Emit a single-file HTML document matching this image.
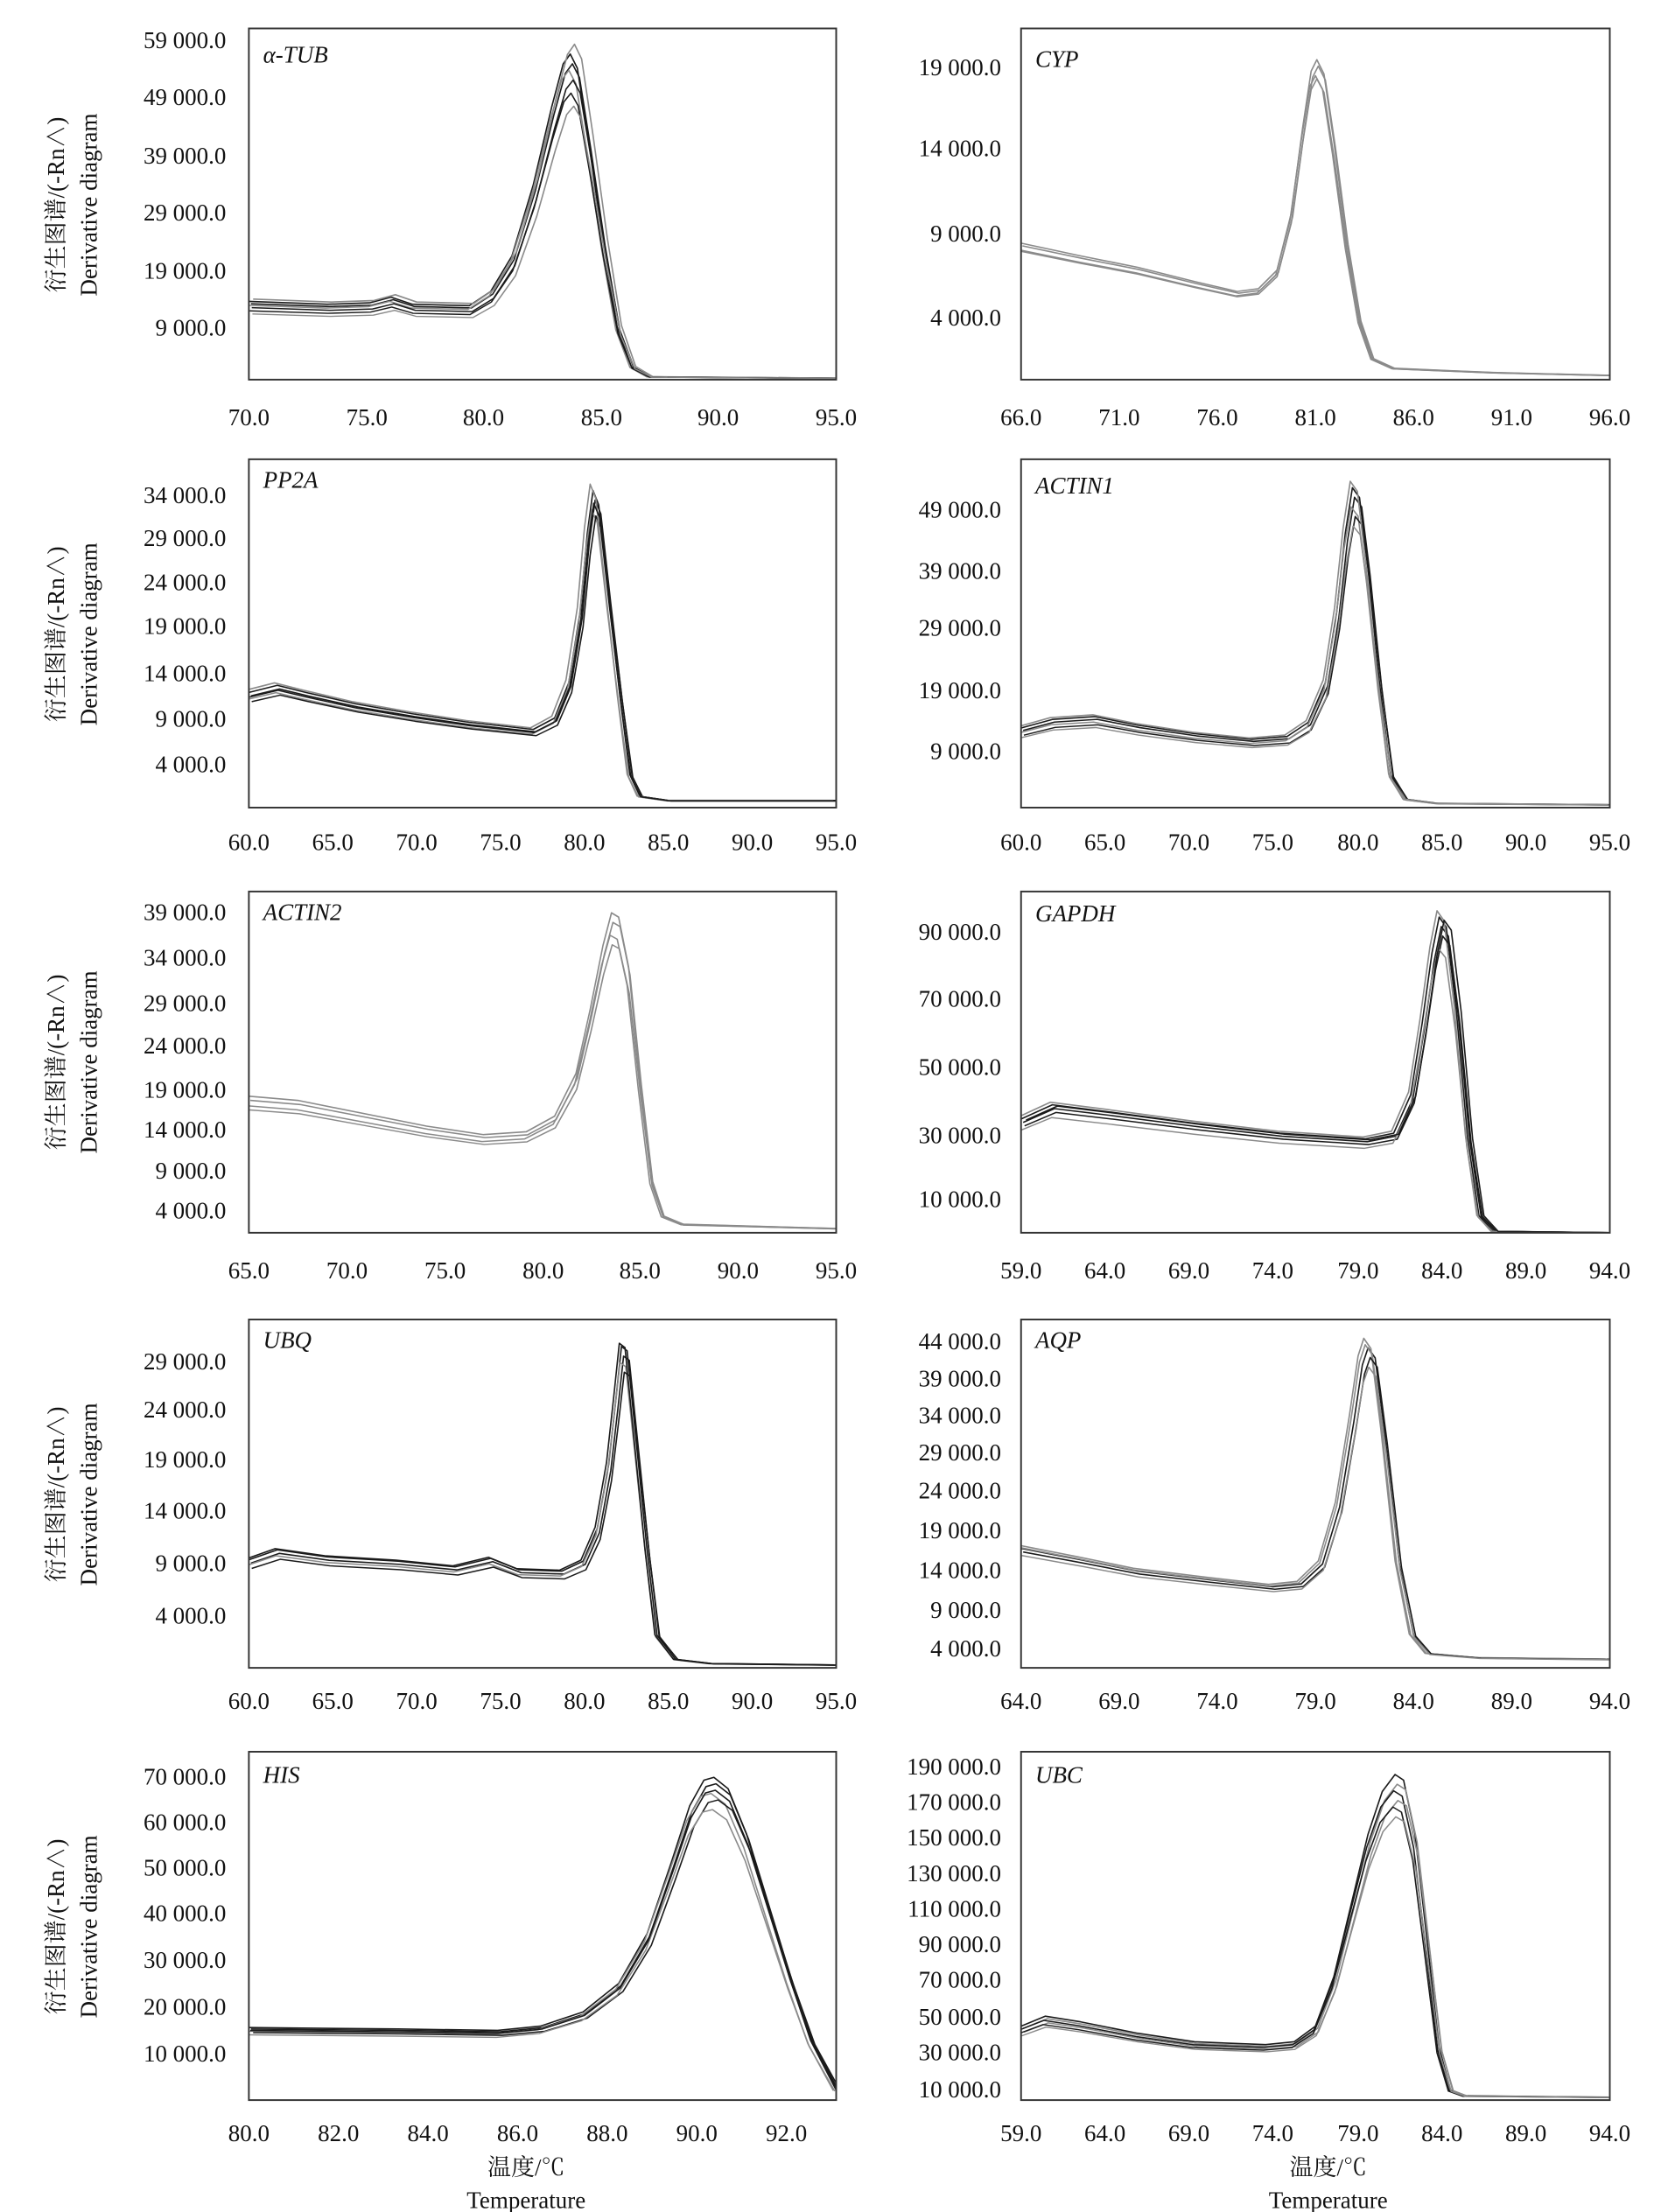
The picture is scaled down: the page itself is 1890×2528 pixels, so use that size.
<!DOCTYPE html>
<html><head><meta charset="utf-8"><style>
html,body{margin:0;padding:0;background:#fff;}
svg{display:block;}
text{font-family:"Liberation Serif","Noto Serif CJK SC","Noto Sans CJK SC",serif;fill:#111;font-size:16.6px;}
.yl text{text-anchor:end;}
.xl text{text-anchor:middle;}
.c{fill:none;stroke-width:1;stroke-linejoin:round;}
.k{stroke:#1a1a1a}.g{stroke:#8a8a8a}
.box{fill:none;stroke:#333;stroke-width:1.2}
.nm{font-style:italic;}
</style></head><body>
<svg width="1890" height="2528" viewBox="0 0 1163.08 1555.7" xmlns="http://www.w3.org/2000/svg" xmlns:xlink="http://www.w3.org/1999/xlink">
<rect width="1163.08" height="1555.7" fill="#fff"/>
<defs>
<path id="p1" d="M175,212 L230,214 L260,213 L275,209 L290,214 L330,215 L345,205 L360,180 L375,130 L388,75 L396,45 L401,38 L406,48 L414,100 L424,170 L434,230 L444,258 L456,265 L588,266"/>
<path id="p2" d="M718,171 L760,180 L800,188 L840,198 L870,205 L885,203 L898,190 L908,150 L916,90 L922,50 L926,42 L931,52 L938,100 L947,170 L956,225 L965,252 L980,259 L1050,262 L1132,264"/>
<path id="p3" d="M175,487 L195,482 L215,487 L250,495 L290,502 L330,508 L375,513 L390,505 L400,480 L408,430 L413,375 L417,345 L421,355 L428,420 L436,490 L443,545 L450,560 L470,563 L588,563"/>
<path id="p4" d="M718,512 L740,506 L770,504 L800,510 L840,516 L880,520 L905,518 L920,508 L932,480 L940,430 L946,375 L951,343 L956,350 L962,400 L970,480 L978,545 L988,562 L1010,565 L1132,566"/>
<path id="p5" d="M175,771 L210,774 L250,782 L300,792 L340,798 L370,796 L390,785 L405,755 L415,710 L424,665 L430,642 L435,645 L442,680 L450,760 L458,830 L466,855 L480,861 L588,864"/>
<path id="p6" d="M718,787 L740,777 L780,782 L840,790 L900,797 L960,801 L980,797 L992,770 L1000,720 L1007,670 L1012,645 L1017,652 L1024,710 L1032,800 L1040,855 L1050,866 L1132,867"/>
<path id="p7" d="M175,1097 L195,1090 L230,1095 L280,1098 L320,1102 L345,1096 L365,1104 L395,1105 L410,1098 L420,1075 L428,1030 L433,985 L437,947 L441,950 L447,1010 L455,1090 L462,1150 L475,1167 L500,1170 L588,1171"/>
<path id="p8" d="M718,1089 L760,1097 L800,1105 L850,1111 L895,1116 L915,1114 L930,1100 L942,1060 L952,1000 L958,960 L962,948 L967,955 L974,1010 L984,1100 L994,1150 L1005,1163 L1040,1166 L1132,1167"/>
<path id="p9" d="M175,1426 L280,1427 L350,1428 L380,1425 L410,1415 L435,1395 L455,1360 L472,1310 L485,1270 L495,1252 L502,1250 L512,1258 L525,1290 L540,1340 L555,1390 L570,1435 L588,1470"/>
<path id="p10" d="M718,1425 L735,1418 L760,1422 L800,1430 L840,1436 L890,1438 L910,1436 L925,1425 L938,1390 L950,1340 L962,1290 L972,1260 L981,1248 L987,1252 L995,1290 L1003,1360 L1012,1440 L1020,1470 L1030,1474 L1132,1475"/>
<clipPath id="cl"><rect x="175" y="20" width="413" height="247"/><rect x="718" y="20" width="414" height="247"/>
<rect x="175" y="323" width="413" height="245"/><rect x="718" y="323" width="414" height="245"/>
<rect x="175" y="627" width="413" height="240"/><rect x="718" y="627" width="414" height="240"/>
<rect x="175" y="928" width="413" height="245"/><rect x="718" y="928" width="414" height="245"/>
<rect x="175" y="1232" width="413" height="245"/><rect x="718" y="1232" width="414" height="245"/></clipPath>
</defs>

<g clip-path="url(#cl)">
<use href="#p1" xlink:href="#p1" class="c k"/>
<g transform="translate(1.5,267) scale(1,0.97) translate(0,-267)"><use href="#p1" xlink:href="#p1" class="c k"/></g>
<g transform="translate(-1,267) scale(1,0.95) translate(0,-267)"><use href="#p1" xlink:href="#p1" class="c g"/></g>
<g transform="translate(2,267) scale(1,0.92) translate(0,-267)"><use href="#p1" xlink:href="#p1" class="c k"/></g>
<g transform="translate(3,267) scale(1,1.03) translate(0,-267)"><use href="#p1" xlink:href="#p1" class="c g"/></g>
<g transform="translate(0.5,267) scale(1,0.88) translate(0,-267)"><use href="#p1" xlink:href="#p1" class="c k"/></g>
<g transform="translate(2.5,267) scale(1,0.84) translate(0,-267)"><use href="#p1" xlink:href="#p1" class="c g"/></g>
<use href="#p2" xlink:href="#p2" class="c g"/>
<g transform="translate(1,267) scale(1,0.98) translate(0,-267)"><use href="#p2" xlink:href="#p2" class="c g"/></g>
<g transform="translate(-1,267) scale(1,0.95) translate(0,-267)"><use href="#p2" xlink:href="#p2" class="c g"/></g>
<g transform="translate(0,267) scale(1,0.94) translate(0,-267)"><use href="#p2" xlink:href="#p2" class="c g"/></g>
<use href="#p3" xlink:href="#p3" class="c k"/>
<g transform="translate(1.5,568) scale(1,0.97) translate(0,-568)"><use href="#p3" xlink:href="#p3" class="c k"/></g>
<g transform="translate(-1,568) scale(1,0.94) translate(0,-568)"><use href="#p3" xlink:href="#p3" class="c g"/></g>
<g transform="translate(2,568) scale(1,0.92) translate(0,-568)"><use href="#p3" xlink:href="#p3" class="c k"/></g>
<g transform="translate(-2,568) scale(1,1.02) translate(0,-568)"><use href="#p3" xlink:href="#p3" class="c g"/></g>
<g transform="translate(0.5,568) scale(1,0.96) translate(0,-568)"><use href="#p3" xlink:href="#p3" class="c k"/></g>
<use href="#p4" xlink:href="#p4" class="c k"/>
<g transform="translate(1.5,568) scale(1,0.97) translate(0,-568)"><use href="#p4" xlink:href="#p4" class="c k"/></g>
<g transform="translate(-1,568) scale(1,0.94) translate(0,-568)"><use href="#p4" xlink:href="#p4" class="c g"/></g>
<g transform="translate(2,568) scale(1,0.91) translate(0,-568)"><use href="#p4" xlink:href="#p4" class="c k"/></g>
<g transform="translate(-1.5,568) scale(1,1.02) translate(0,-568)"><use href="#p4" xlink:href="#p4" class="c g"/></g>
<g transform="translate(0.5,568) scale(1,0.88) translate(0,-568)"><use href="#p4" xlink:href="#p4" class="c g"/></g>
<use href="#p5" xlink:href="#p5" class="c g"/>
<g transform="translate(1,867) scale(1,0.97) translate(0,-867)"><use href="#p5" xlink:href="#p5" class="c g"/></g>
<g transform="translate(-1,867) scale(1,0.93) translate(0,-867)"><use href="#p5" xlink:href="#p5" class="c g"/></g>
<g transform="translate(0.5,867) scale(1,0.9) translate(0,-867)"><use href="#p5" xlink:href="#p5" class="c g"/></g>
<use href="#p6" xlink:href="#p6" class="c k"/>
<g transform="translate(1.5,867) scale(1,0.97) translate(0,-867)"><use href="#p6" xlink:href="#p6" class="c k"/></g>
<g transform="translate(-1.5,867) scale(1,1.02) translate(0,-867)"><use href="#p6" xlink:href="#p6" class="c g"/></g>
<g transform="translate(2.5,867) scale(1,0.94) translate(0,-867)"><use href="#p6" xlink:href="#p6" class="c k"/></g>
<g transform="translate(-0.5,867) scale(1,0.9) translate(0,-867)"><use href="#p6" xlink:href="#p6" class="c g"/></g>
<g transform="translate(3.5,867) scale(1,0.99) translate(0,-867)"><use href="#p6" xlink:href="#p6" class="c k"/></g>
<use href="#p7" xlink:href="#p7" class="c k"/>
<g transform="translate(1.5,1173) scale(1,0.97) translate(0,-1173)"><use href="#p7" xlink:href="#p7" class="c k"/></g>
<g transform="translate(-1,1173) scale(1,0.95) translate(0,-1173)"><use href="#p7" xlink:href="#p7" class="c g"/></g>
<g transform="translate(2,1173) scale(1,0.92) translate(0,-1173)"><use href="#p7" xlink:href="#p7" class="c k"/></g>
<g transform="translate(-1.5,1173) scale(1,1.01) translate(0,-1173)"><use href="#p7" xlink:href="#p7" class="c k"/></g>
<use href="#p8" xlink:href="#p8" class="c k"/>
<g transform="translate(-3,1173) scale(1,1.03) translate(0,-1173)"><use href="#p8" xlink:href="#p8" class="c g"/></g>
<g transform="translate(-2,1173) scale(1,1.01) translate(0,-1173)"><use href="#p8" xlink:href="#p8" class="c g"/></g>
<g transform="translate(1.5,1173) scale(1,0.97) translate(0,-1173)"><use href="#p8" xlink:href="#p8" class="c k"/></g>
<g transform="translate(0.5,1173) scale(1,0.94) translate(0,-1173)"><use href="#p8" xlink:href="#p8" class="c g"/></g>
<use href="#p9" xlink:href="#p9" class="c k"/>
<g transform="translate(1.5,1477) scale(1,0.98) translate(0,-1477)"><use href="#p9" xlink:href="#p9" class="c k"/></g>
<g transform="translate(-2,1477) scale(1,0.95) translate(0,-1477)"><use href="#p9" xlink:href="#p9" class="c g"/></g>
<g transform="translate(3,1477) scale(1,0.93) translate(0,-1477)"><use href="#p9" xlink:href="#p9" class="c k"/></g>
<g transform="translate(-1,1477) scale(1,0.9) translate(0,-1477)"><use href="#p9" xlink:href="#p9" class="c g"/></g>
<g transform="translate(1,1477) scale(1,0.96) translate(0,-1477)"><use href="#p9" xlink:href="#p9" class="c k"/></g>
<use href="#p10" xlink:href="#p10" class="c k"/>
<g transform="translate(1.5,1477) scale(1,0.97) translate(0,-1477)"><use href="#p10" xlink:href="#p10" class="c g"/></g>
<g transform="translate(-1,1477) scale(1,0.95) translate(0,-1477)"><use href="#p10" xlink:href="#p10" class="c k"/></g>
<g transform="translate(2,1477) scale(1,0.92) translate(0,-1477)"><use href="#p10" xlink:href="#p10" class="c g"/></g>
<g transform="translate(-1.5,1477) scale(1,0.9) translate(0,-1477)"><use href="#p10" xlink:href="#p10" class="c k"/></g>
<g transform="translate(0.5,1477) scale(1,0.87) translate(0,-1477)"><use href="#p10" xlink:href="#p10" class="c g"/></g>
</g>

<rect class="box" x="175" y="20" width="413" height="247"/><rect class="box" x="718" y="20" width="414" height="247"/>
<rect class="box" x="175" y="323" width="413" height="245"/><rect class="box" x="718" y="323" width="414" height="245"/>
<rect class="box" x="175" y="627" width="413" height="240"/><rect class="box" x="718" y="627" width="414" height="240"/>
<rect class="box" x="175" y="928" width="413" height="245"/><rect class="box" x="718" y="928" width="414" height="245"/>
<rect class="box" x="175" y="1232" width="413" height="245"/><rect class="box" x="718" y="1232" width="414" height="245"/>

<g class="nm">
<text x="185" y="44">α-TUB</text><text x="728" y="47">CYP</text>
<text x="185" y="343">PP2A</text><text x="728" y="347">ACTIN1</text>
<text x="185" y="647">ACTIN2</text><text x="728" y="648">GAPDH</text>
<text x="185" y="948">UBQ</text><text x="728" y="948">AQP</text>
<text x="185" y="1254">HIS</text><text x="728" y="1254">UBC</text>
</g>

<g class="yl">
<text x="159" y="34">59 000.0</text><text x="159" y="74">49 000.0</text><text x="159" y="115">39 000.0</text><text x="159" y="155">29 000.0</text><text x="159" y="196">19 000.0</text><text x="159" y="236">9 000.0</text>
<text x="704" y="53">19 000.0</text><text x="704" y="110">14 000.0</text><text x="704" y="170">9 000.0</text><text x="704" y="229">4 000.0</text>
<text x="159" y="354">34 000.0</text><text x="159" y="384">29 000.0</text><text x="159" y="415">24 000.0</text><text x="159" y="446">19 000.0</text><text x="159" y="479">14 000.0</text><text x="159" y="511">9 000.0</text><text x="159" y="543">4 000.0</text>
<text x="704" y="364">49 000.0</text><text x="704" y="407">39 000.0</text><text x="704" y="447">29 000.0</text><text x="704" y="491">19 000.0</text><text x="704" y="534">9 000.0</text>
<text x="159" y="647">39 000.0</text><text x="159" y="679">34 000.0</text><text x="159" y="711">29 000.0</text><text x="159" y="741">24 000.0</text><text x="159" y="772">19 000.0</text><text x="159" y="800">14 000.0</text><text x="159" y="829">9 000.0</text><text x="159" y="857">4 000.0</text>
<text x="704" y="661">90 000.0</text><text x="704" y="708">70 000.0</text><text x="704" y="756">50 000.0</text><text x="704" y="804">30 000.0</text><text x="704" y="849">10 000.0</text>
<text x="159" y="963">29 000.0</text><text x="159" y="997">24 000.0</text><text x="159" y="1032">19 000.0</text><text x="159" y="1068">14 000.0</text><text x="159" y="1105">9 000.0</text><text x="159" y="1142">4 000.0</text>
<text x="704" y="949">44 000.0</text><text x="704" y="975">39 000.0</text><text x="704" y="1001">34 000.0</text><text x="704" y="1027">29 000.0</text><text x="704" y="1054">24 000.0</text><text x="704" y="1082">19 000.0</text><text x="704" y="1110">14 000.0</text><text x="704" y="1138">9 000.0</text><text x="704" y="1165">4 000.0</text>
<text x="159" y="1255">70 000.0</text><text x="159" y="1287">60 000.0</text><text x="159" y="1319">50 000.0</text><text x="159" y="1351">40 000.0</text><text x="159" y="1384">30 000.0</text><text x="159" y="1417">20 000.0</text><text x="159" y="1450">10 000.0</text>
<text x="704" y="1248">190 000.0</text><text x="704" y="1273">170 000.0</text><text x="704" y="1298">150 000.0</text><text x="704" y="1323">130 000.0</text><text x="704" y="1348">110 000.0</text><text x="704" y="1373">90 000.0</text><text x="704" y="1398">70 000.0</text><text x="704" y="1424">50 000.0</text><text x="704" y="1449">30 000.0</text><text x="704" y="1475">10 000.0</text>
</g>

<g class="xl">
<text x="175" y="299">70.0</text><text x="258" y="299">75.0</text><text x="340" y="299">80.0</text><text x="423" y="299">85.0</text><text x="505" y="299">90.0</text><text x="588" y="299">95.0</text>
<text x="718" y="299">66.0</text><text x="787" y="299">71.0</text><text x="856" y="299">76.0</text><text x="925" y="299">81.0</text><text x="994" y="299">86.0</text><text x="1063" y="299">91.0</text><text x="1132" y="299">96.0</text>
<text x="175" y="598">60.0</text><text x="234" y="598">65.0</text><text x="293" y="598">70.0</text><text x="352" y="598">75.0</text><text x="411" y="598">80.0</text><text x="470" y="598">85.0</text><text x="529" y="598">90.0</text><text x="588" y="598">95.0</text>
<text x="718" y="598">60.0</text><text x="777" y="598">65.0</text><text x="836" y="598">70.0</text><text x="895" y="598">75.0</text><text x="955" y="598">80.0</text><text x="1014" y="598">85.0</text><text x="1073" y="598">90.0</text><text x="1132" y="598">95.0</text>
<text x="175" y="899">65.0</text><text x="244" y="899">70.0</text><text x="313" y="899">75.0</text><text x="382" y="899">80.0</text><text x="450" y="899">85.0</text><text x="519" y="899">90.0</text><text x="588" y="899">95.0</text>
<text x="718" y="899">59.0</text><text x="777" y="899">64.0</text><text x="836" y="899">69.0</text><text x="895" y="899">74.0</text><text x="955" y="899">79.0</text><text x="1014" y="899">84.0</text><text x="1073" y="899">89.0</text><text x="1132" y="899">94.0</text>
<text x="175" y="1202">60.0</text><text x="234" y="1202">65.0</text><text x="293" y="1202">70.0</text><text x="352" y="1202">75.0</text><text x="411" y="1202">80.0</text><text x="470" y="1202">85.0</text><text x="529" y="1202">90.0</text><text x="588" y="1202">95.0</text>
<text x="718" y="1202">64.0</text><text x="787" y="1202">69.0</text><text x="856" y="1202">74.0</text><text x="925" y="1202">79.0</text><text x="994" y="1202">84.0</text><text x="1063" y="1202">89.0</text><text x="1132" y="1202">94.0</text>
<text x="175" y="1506">80.0</text><text x="238" y="1506">82.0</text><text x="301" y="1506">84.0</text><text x="364" y="1506">86.0</text><text x="427" y="1506">88.0</text><text x="490" y="1506">90.0</text><text x="553" y="1506">92.0</text>
<text x="718" y="1506">59.0</text><text x="777" y="1506">64.0</text><text x="836" y="1506">69.0</text><text x="895" y="1506">74.0</text><text x="955" y="1506">79.0</text><text x="1014" y="1506">84.0</text><text x="1073" y="1506">89.0</text><text x="1132" y="1506">94.0</text>
<text x="370" y="1530">温度/℃</text><text x="370" y="1553">Temperature</text>
<text x="934" y="1530">温度/℃</text><text x="934" y="1553">Temperature</text>
</g>

<g text-anchor="middle">
<text transform="translate(45,144) rotate(-90)">衍生图谱/(-Rn∧)</text><text transform="translate(68,144) rotate(-90)">Derivative diagram</text>
<text transform="translate(45,446) rotate(-90)">衍生图谱/(-Rn∧)</text><text transform="translate(68,446) rotate(-90)">Derivative diagram</text>
<text transform="translate(45,747) rotate(-90)">衍生图谱/(-Rn∧)</text><text transform="translate(68,747) rotate(-90)">Derivative diagram</text>
<text transform="translate(45,1051) rotate(-90)">衍生图谱/(-Rn∧)</text><text transform="translate(68,1051) rotate(-90)">Derivative diagram</text>
<text transform="translate(45,1355) rotate(-90)">衍生图谱/(-Rn∧)</text><text transform="translate(68,1355) rotate(-90)">Derivative diagram</text>
</g>
</svg>
</body></html>
